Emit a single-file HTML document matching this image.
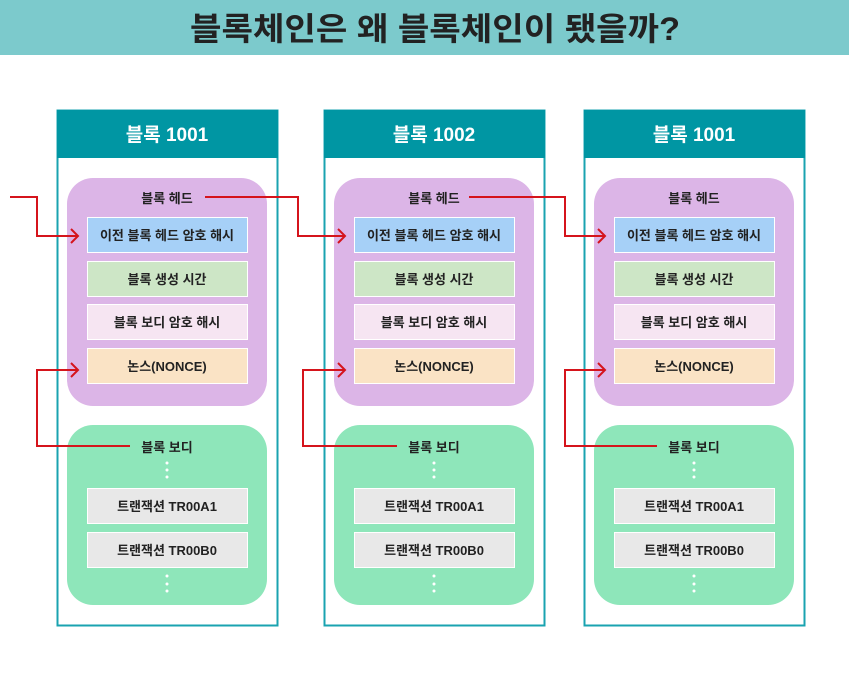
<!DOCTYPE html>
<html><head><meta charset="utf-8"><style>
html,body{margin:0;padding:0;background:#fff;}
svg{display:block;}
text{font-family:"Liberation Sans","Noto Sans CJK KR",sans-serif;font-weight:bold;fill:#222;}
</style></head><body>
<svg width="849" height="674" viewBox="0 0 849 674" xmlns="http://www.w3.org/2000/svg">
<defs>
<g id="blk">
  <rect x="57.5" y="110.5" width="220" height="515" fill="#fff" stroke="#1aa3b0" stroke-width="2"/>
  <rect x="57" y="110" width="221" height="48" fill="#0096a3"/>
  <rect x="67" y="178" width="200" height="228" rx="26" fill="#dcb5e7"/>
  <text x="167" y="203" font-size="13" text-anchor="middle">블록 헤드</text>
  <rect x="87.5" y="217.5" width="160" height="35" fill="#a6d0f7" stroke="#fff"/>
  <text x="167" y="240" font-size="13" text-anchor="middle">이전 블록 헤드 암호 해시</text>
  <rect x="87.5" y="261.5" width="160" height="35" fill="#cde6c6" stroke="#fff"/>
  <text x="167" y="284" font-size="13" text-anchor="middle">블록 생성 시간</text>
  <rect x="87.5" y="304.5" width="160" height="35" fill="#f6e5f2" stroke="#fff"/>
  <text x="167" y="327" font-size="13" text-anchor="middle">블록 보디 암호 해시</text>
  <rect x="87.5" y="348.5" width="160" height="35" fill="#fae3c5" stroke="#fff"/>
  <text x="167" y="371" font-size="13" text-anchor="middle">논스(NONCE)</text>
  <rect x="67" y="425" width="200" height="180" rx="26" fill="#8ee6ba"/>
  <text x="167" y="452" font-size="13" text-anchor="middle">블록 보디</text>
  <g fill="#fff"><circle cx="167" cy="463" r="1.5"/><circle cx="167" cy="470" r="1.5"/><circle cx="167" cy="477" r="1.5"/>
  <circle cx="167" cy="576" r="1.5"/><circle cx="167" cy="584" r="1.5"/><circle cx="167" cy="591" r="1.5"/></g>
  <rect x="87.5" y="488.5" width="160" height="35" fill="#e8e8e8" stroke="#fff"/>
  <text x="167" y="511" font-size="13" text-anchor="middle">트랜잭션 TR00A1</text>
  <rect x="87.5" y="532.5" width="160" height="35" fill="#e8e8e8" stroke="#fff"/>
  <text x="167" y="555" font-size="13" text-anchor="middle">트랜잭션 TR00B0</text>
</g>
</defs>
<rect x="0" y="0" width="849" height="55" fill="#7ccacc"/>
<text x="435" y="40" font-size="32" text-anchor="middle" textLength="490" lengthAdjust="spacingAndGlyphs">블록체인은 왜 블록체인이 됐을까?</text>
<use href="#blk"/>
<use href="#blk" transform="translate(267,0)"/>
<use href="#blk" transform="translate(527,0)"/>
<text x="167" y="141" font-size="19" text-anchor="middle" style="fill:#fff">블록 1001</text>
<text x="434" y="141" font-size="19" text-anchor="middle" style="fill:#fff">블록 1002</text>
<text x="694" y="141" font-size="19" text-anchor="middle" style="fill:#fff">블록 1001</text>
<g fill="none" stroke="#d5141c" stroke-width="2">
  <polyline points="10,197 37,197 37,236 78,236"/><polyline points="71,229 78,236 71,243"/>
  <polyline points="130,446 37,446 37,370 78,370"/><polyline points="71,363 78,370 71,377"/>
  <polyline points="205,197 298,197 298,236 345,236"/><polyline points="338,229 345,236 338,243"/>
  <polyline points="397,446 303,446 303,370 345,370"/><polyline points="338,363 345,370 338,377"/>
  <polyline points="469,197 565,197 565,236 605,236"/><polyline points="598,229 605,236 598,243"/>
  <polyline points="657,446 565,446 565,370 605,370"/><polyline points="598,363 605,370 598,377"/>
</g>
</svg>
</body></html>
